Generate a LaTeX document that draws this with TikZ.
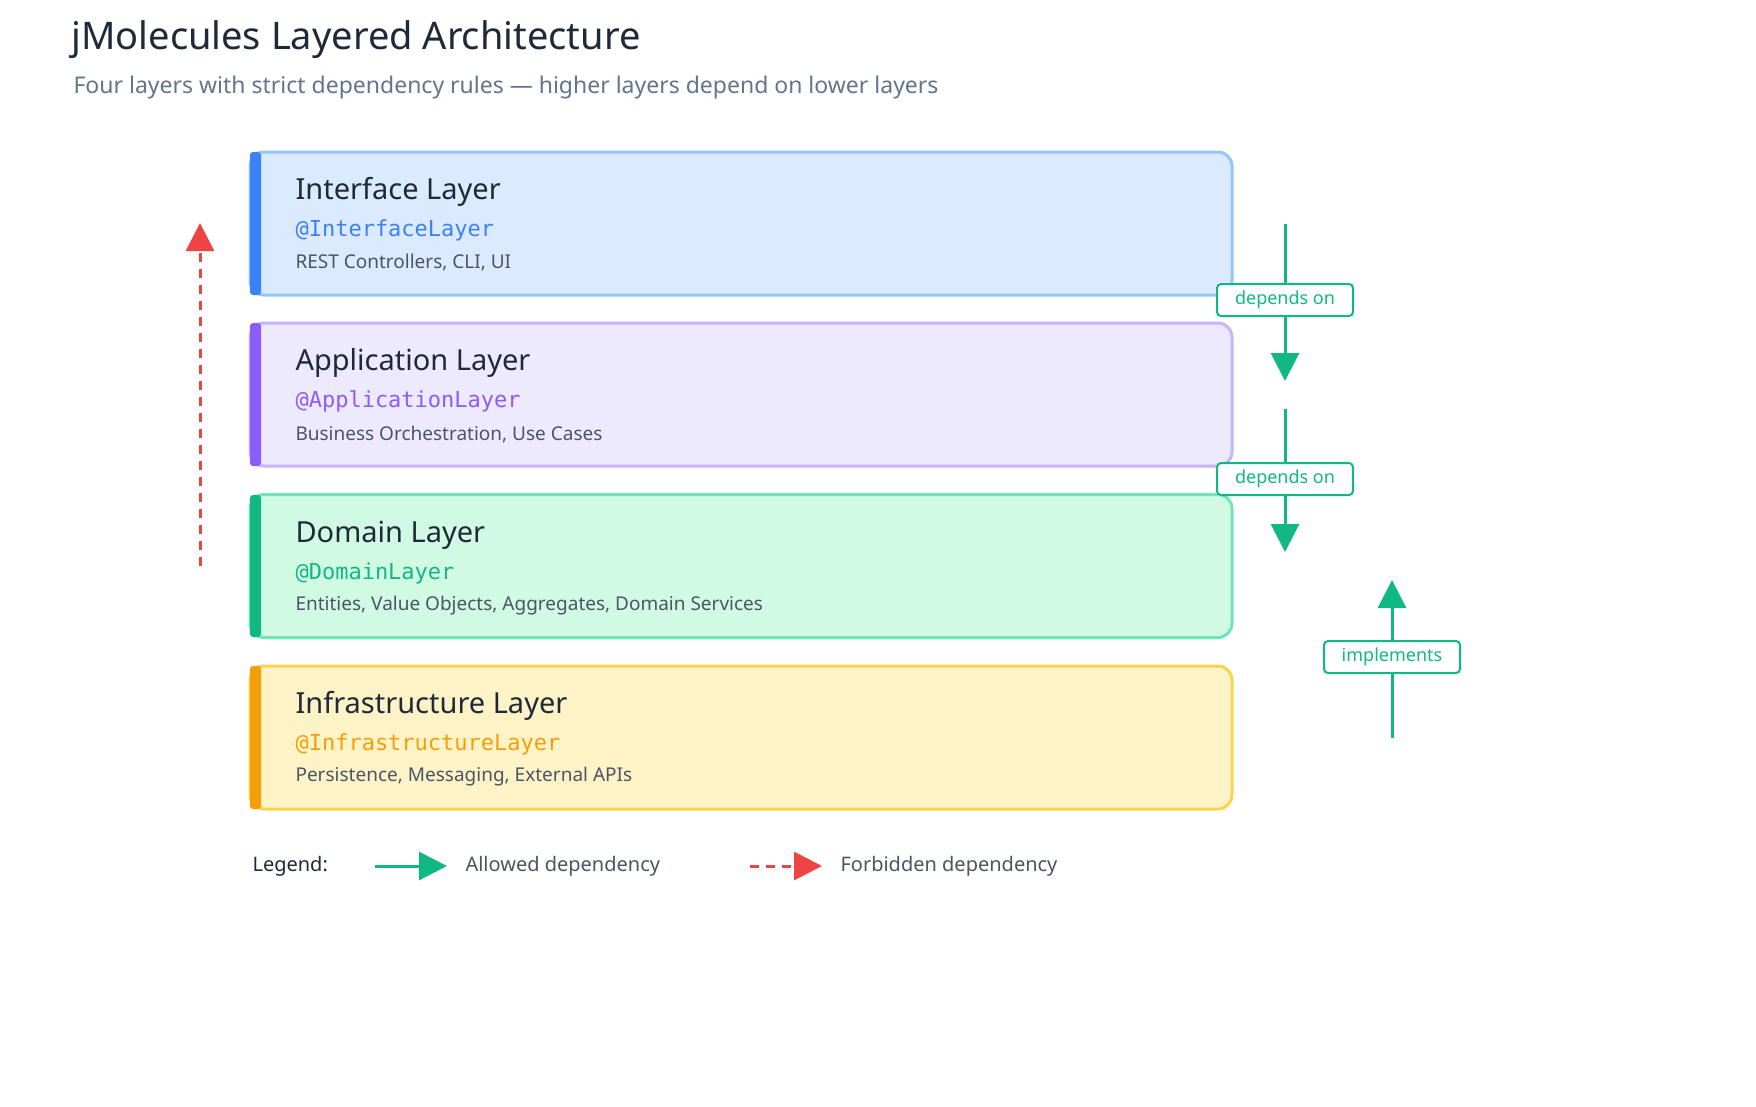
\documentclass[tikz,border=0pt]{standalone}
\usepackage{fontspec}
\setmainfont{Noto Sans}
\newfontfamily\monofont{DejaVu Sans Mono}
\usetikzlibrary{arrows.meta,positioning}
\definecolor{ink}{HTML}{1F2937}
\definecolor{grey}{HTML}{4B5563}
\definecolor{slate}{HTML}{64748B}
\definecolor{ok}{HTML}{10B981}
\definecolor{bad}{HTML}{EF4444}
\definecolor{ifline}{HTML}{93C5FD}
\definecolor{iffill}{HTML}{DBEAFE}
\definecolor{ifmark}{HTML}{3B82F6}
\definecolor{apline}{HTML}{C4B5FD}
\definecolor{apfill}{HTML}{EDE9FE}
\definecolor{apmark}{HTML}{8B5CF6}
\definecolor{dmline}{HTML}{6EE7B7}
\definecolor{dmfill}{HTML}{D1FAE5}
\definecolor{inline}{HTML}{FCD34D}
\definecolor{infill}{HTML}{FEF3C7}
\definecolor{inmark}{HTML}{F59E0B}
\tikzset{layer/.style={draw,line width=3pt,rounded corners=14pt,
                       minimum width=982pt,minimum height=143pt,inner sep=0pt}}
\tikzset{lname/.style={anchor=west,text=ink,font=\fontsize{29}{34}\selectfont\bfseries}}
\tikzset{ltag/.style={anchor=west,font=\fontsize{22}{26}\monofont}}
\tikzset{ldesc/.style={anchor=west,text=grey,font=\fontsize{19}{23}\selectfont}}
\tikzset{tag/.style={draw=ok,fill=white,text=ok,line width=2pt,rounded corners=4pt,
                     minimum width=136pt,minimum height=32pt,inner sep=0pt,
                     font=\fontsize{18}{22}\selectfont}}
\tikzset{dep/.style={draw=ok,line width=3pt,-{Triangle[length=28pt,width=28pt]}}}
\tikzset{nodep/.style={draw=bad,line width=3pt,dash pattern=on 9pt off 7pt,
                       -{Triangle[length=28pt,width=28pt]}}}

\begin{document}
\begin{tikzpicture}[x=1pt,y=-1pt]
    \useasboundingbox[fill=white] (0,0) rectangle (1756,1106);

    \node[anchor=west,text=ink,font=\fontsize{38}{44}\selectfont\bfseries] (title) at (68,40) {jMolecules Layered Architecture};
    \node[anchor=west,text=slate,font=\fontsize{23}{28}\selectfont] (sub) at (70,88) {Four layers with strict dependency rules — higher layers depend on lower layers};

    % layers
    \node[layer,draw=ifline,fill=iffill] (iface) at (741,223.5) {};
    \fill[ifmark,rounded corners=3pt] (250,152) rectangle (261,295);
    \node[lname] (ifn) at (292,192) {Interface Layer};
    \node[ltag,text=ifmark] (ift) at (292,230) {@InterfaceLayer};
    \node[ldesc] (ifd) at (292,262) {REST Controllers, CLI, UI};

    \node[layer,draw=apline,fill=apfill] (app) at (741,394.5) {};
    \fill[apmark,rounded corners=3pt] (250,323) rectangle (261,466);
    \node[lname] (apn) at (292,363) {Application Layer};
    \node[ltag,text=apmark] (apt) at (292,401) {@ApplicationLayer};
    \node[ldesc] (apd) at (292,434) {Business Orchestration, Use Cases};

    \node[layer,draw=dmline,fill=dmfill] (dom) at (741,566) {};
    \fill[ok,rounded corners=3pt] (250,495) rectangle (261,637);
    \node[lname] (dmn) at (292,535) {Domain Layer};
    \node[ltag,text=ok] (dmt) at (292,573) {@DomainLayer};
    \node[ldesc] (dmd) at (292,606) {Entities, Value Objects, Aggregates, Domain Services};

    \node[layer,draw=inline,fill=infill] (infra) at (741,737.5) {};
    \fill[inmark,rounded corners=3pt] (250,666) rectangle (261,809);
    \node[lname] (inn) at (292,706) {Infrastructure Layer};
    \node[ltag,text=inmark] (int) at (292,744) {@InfrastructureLayer};
    \node[ldesc] (ind) at (292,777) {Persistence, Messaging, External APIs};

    % dependencies
    \coordinate (d1a) at (1285,224);
    \coordinate (d1b) at (1285,381);
    \coordinate (d2a) at (1285,409);
    \coordinate (d2b) at (1285,552);
    \coordinate (ima) at (1392,738);
    \coordinate (imb) at (1392,580);
    \coordinate (fba) at (200,566);
    \coordinate (fbb) at (200,223);
    \draw[dep] (d1a) -- (d1b);
    \draw[dep] (d2a) -- (d2b);
    \draw[dep] (ima) -- (imb);
    \draw[nodep] (fba) -- (fbb);
    \node[tag] (dep1) at (1285,300) {depends on};
    \node[tag] (dep2) at (1285,479) {depends on};
    \node[tag] (impl) at (1392,657) {implements};

    % legend
    \node[anchor=west,text=ink,font=\fontsize{20}{24}\selectfont\bfseries] (leg) at (249,866) {Legend:};
    \coordinate (la) at (375,866);
    \coordinate (lb) at (447,866);
    \draw[dep] (la) -- (lb);
    \node[anchor=west,text=grey,font=\fontsize{20}{24}\selectfont] (lok) at (462,866) {Allowed dependency};
    \coordinate (ra) at (750,866);
    \coordinate (rb) at (822,866);
    \draw[nodep] (ra) -- (rb);
    \node[anchor=west,text=grey,font=\fontsize{20}{24}\selectfont] (lbad) at (837,866) {Forbidden dependency};
\end{tikzpicture}
\end{document}
